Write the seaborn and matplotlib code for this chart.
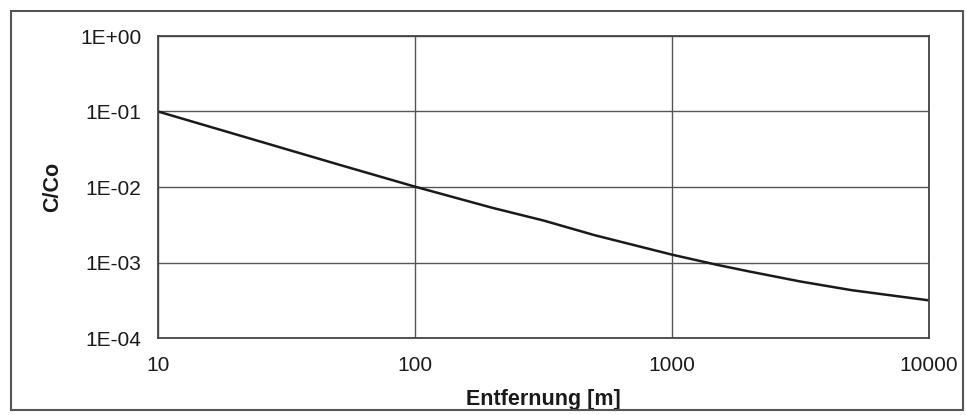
import matplotlib
matplotlib.use("Agg")
import matplotlib.pyplot as plt
import seaborn as sns
import pandas as pd
from matplotlib.patches import Rectangle
from matplotlib.ticker import FixedLocator, FixedFormatter, NullLocator

# Data
distance_m = [10, 20, 50, 100, 200, 316, 500, 1000, 1500, 2000, 3162, 5000, 10000]
c_over_co = [0.1, 0.05, 0.02, 0.0101, 0.0053, 0.0036, 0.0023, 0.00127,
             0.00093, 0.00076, 0.00056, 0.00043, 0.000315]

x_ticks = [10, 100, 1000, 10000]
x_tick_labels = ["10", "100", "1000", "10000"]
y_ticks = [1e-4, 1e-3, 1e-2, 1e-1, 1e0]
y_tick_labels = ["1E-04", "1E-03", "1E-02", "1E-01", "1E+00"]

df = pd.DataFrame({"Entfernung": distance_m, "C/Co": c_over_co})

sns.set_theme(style="white")
plt.rcParams["font.family"] = ["Liberation Sans", "DejaVu Sans"]

fig = plt.figure(figsize=(9.66, 4.15), dpi=100)
ax = fig.add_axes([158 / 966, 1 - 338 / 415, (929 - 158) / 966, (338 - 36) / 415])

sns.lineplot(data=df, x="Entfernung", y="C/Co", ax=ax, color="#1a1a1a", linewidth=1.8)

ax.set_xscale("log")
ax.set_yscale("log")
ax.set_xlim(10, 10000)
ax.set_ylim(1e-4, 1e0)

ax.xaxis.set_major_locator(FixedLocator(x_ticks))
ax.xaxis.set_major_formatter(FixedFormatter(x_tick_labels))
ax.xaxis.set_minor_locator(NullLocator())
ax.yaxis.set_major_locator(FixedLocator(y_ticks))
ax.yaxis.set_major_formatter(FixedFormatter(y_tick_labels))
ax.yaxis.set_minor_locator(NullLocator())

ax.grid(True, which="major", color="#555555", linewidth=1.0)
for s in ax.spines.values():
    s.set_color("#444444")
    s.set_linewidth(1.3)

ax.tick_params(axis="both", which="major", labelsize=15, colors="#1a1a1a",
               length=0, pad=12)
ax.tick_params(axis="x", pad=13)
ax.set_xlabel("Entfernung [m]", fontsize=15.5, fontweight="bold", color="#1a1a1a", labelpad=10)
ax.set_ylabel("C/Co", fontsize=15.5, fontweight="bold", color="#1a1a1a", labelpad=12)

# outer frame
fig.patches.append(Rectangle((11 / 966, 5 / 415), (963 - 11) / 966, (404 - 5) / 415,
                             transform=fig.transFigure, fill=False,
                             edgecolor="#555555", linewidth=1.5))

fig.savefig("out.png", dpi=100)
